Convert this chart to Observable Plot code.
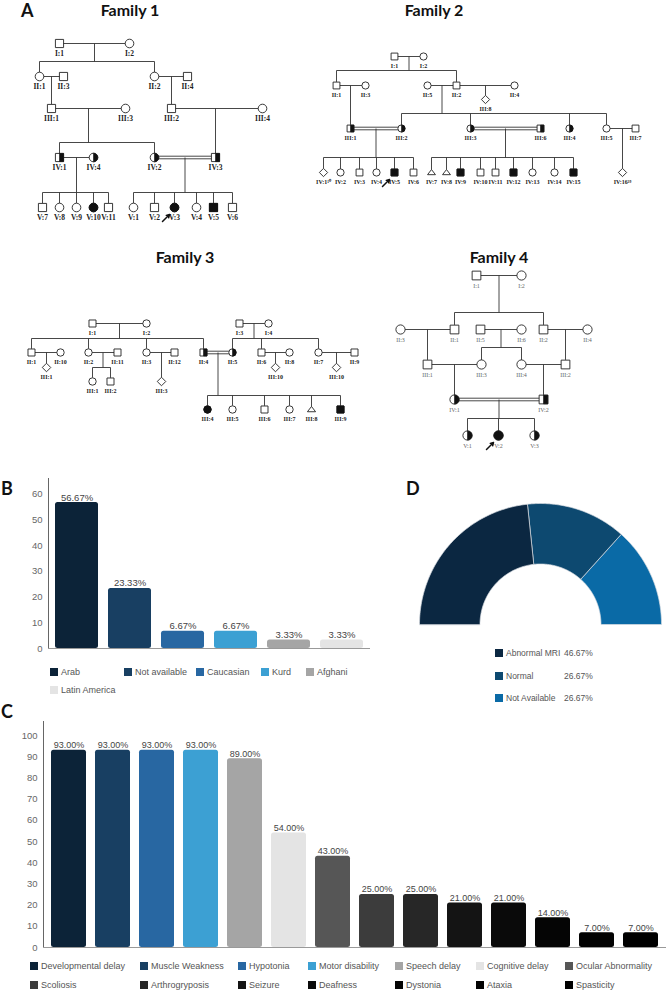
<!DOCTYPE html>
<html><head><meta charset="utf-8">
<script src="https://cdn.jsdelivr.net/npm/d3@7"></script>
<script src="https://cdn.jsdelivr.net/npm/@observablehq/plot@0.6"></script>
<style>
body{margin:0;background:#fff;}
#fig{position:relative;width:666px;height:992px;overflow:hidden;background:#fff;font-family:"Liberation Sans",Arial,sans-serif;}
.letter{position:absolute;font-family:Lato,sans-serif;font-weight:700;font-size:18px;line-height:17px;color:#111;}
.title{position:absolute;font-family:Lato,sans-serif;font-weight:700;font-size:16px;line-height:15px;color:#111;transform:translateX(-50%);white-space:nowrap;}
.leg{position:absolute;font-size:9px;color:#555;white-space:nowrap;line-height:10px;display:flex;align-items:center;}
.sw{display:inline-block;width:8px;height:8px;margin-right:3px;}
</style></head><body>
<div id="fig"></div>
<script>
// ---------------- DATA ----------------
// Panel B: ethnicity
const ethnicity = ["Arab","Not available","Caucasian","Kurd","Afghani","Latin America"];
const ethnicityPct = [56.67,23.33,6.67,6.67,3.33,3.33];
// Panel C: clinical features
const symptoms = ["Developmental delay","Muscle Weakness","Hypotonia","Motor disability","Speech delay","Cognitive delay","Ocular Abnormality","Scoliosis","Arthrogryposis","Seizure","Deafness","Dystonia","Ataxia","Spasticity"];
const symptomPct = [93,93,93,93,89,54,43,25,25,21,21,14,7,7];
// Panel D: MRI
const mriCats = ["Abnormal MRI","Normal","Not Available"];
const mriPct = [46.67,26.67,26.67];
const bTicks = [0,10,20,30,40,50,60];
const cTicks = [0,10,20,30,40,50,60,70,80,90,100];

// Pedigrees: [key, label, layoutX, layoutY, sex(M/F/U/P), status(N/A/C), proband]
const family1People = [
 ["I:1","I:1",59,43,"M","N"],["I:2","I:2",129,43,"F","N"],
 ["II:1","II:1",39,76,"F","N"],["II:3","II:3",63,76,"M","N"],["II:2","II:2",154,76,"F","N"],["II:4","II:4",187,76,"M","N"],
 ["III:1","III:1",51,108,"M","N"],["III:3","III:3",125,108,"F","N"],["III:2","III:2",171,108,"M","N"],["III:4","III:4",262,108,"F","N"],
 ["IV:1","IV:1",59,157,"M","C"],["IV:4","IV:4",93,157,"F","C"],["IV:2","IV:2",154,157,"F","C"],["IV:3","IV:3",215,157,"M","C"],
 ["V:7","V:7",42,207,"M","N"],["V:8","V:8",59,207,"F","N"],["V:9","V:9",76,207,"F","N"],["V:10","V:10",93,207,"F","A"],["V:11","V:11",108,207,"M","N"],
 ["V:1","V:1",133,207,"F","N"],["V:2","V:2",154,207,"M","N"],["V:3","V:3",174,207,"F","A",1],["V:4","V:4",196,207,"F","N"],["V:5","V:5",213,207,"M","A"],["V:6","V:6",232,207,"M","N"]
];
const family1Unions = [
 ["I:1","I:2",0,["II:1","II:2"]],["II:1","II:3",0,["III:1"]],["II:2","II:4",0,["III:2"]],
 ["III:1","III:3",0,["IV:1","IV:2"]],["III:2","III:4",0,["IV:3"]],
 ["IV:1","IV:4",0,["V:7","V:8","V:9","V:10","V:11"]],["IV:2","IV:3",1,["V:1","V:2","V:3","V:4","V:5","V:6"]]
];
const family2People = [
 ["I:1","I:1",394,56,"M","N"],["I:2","I:2",423,56,"F","N"],
 ["II:1","II:1",336,85,"M","N"],["II:3","II:3",365,85,"F","N"],["II:5","II:5",427,85,"F","N"],["II:2","II:2",456,85,"M","N"],["II:4","II:4",514,85,"F","N"],
 ["III:8","III:8",485,99,"U","N"],
 ["III:1","III:1",350,128,"M","C"],["III:2","III:2",401,128,"F","C"],["III:3","III:3",470,128,"F","C"],["III:6","III:6",540,128,"M","C"],["III:4","III:4",569,128,"F","C"],["III:5","III:5",606,128,"F","N"],["III:7","III:7",635,128,"M","N"],
 ["IV:1","IV:1¹⁰",323,172,"U","N"],["IV:2","IV:2",340,172,"F","N"],["IV:3","IV:3",359,172,"M","N"],["IV:4","IV:4",376,172,"F","N"],["IV:5","IV:5",394,172,"M","A",1],["IV:6","IV:6",413,172,"M","N"],
 ["IV:7","IV:7",431,172,"P","N"],["IV:8","IV:8",446,172,"P","N"],["IV:9","IV:9",460,172,"M","A"],["IV:10","IV:10",480,172,"M","N"],["IV:11","IV:11",495,172,"M","N"],["IV:12","IV:12",513,172,"M","A"],["IV:13","IV:13",532,172,"F","N"],["IV:14","IV:14",554,172,"F","N"],["IV:15","IV:15",573,172,"M","A"],
 ["IV:16","IV:16¹⁹",622,172,"U","N"]
];
const family2Unions = [
 ["I:1","I:2",0,["II:1","II:2"]],["II:1","II:3",0,["III:1"]],["II:5","II:2",0,["III:2","III:3","III:4","III:5"]],["II:2","II:4",0,["III:8"]],
 ["III:1","III:2",1,["IV:1","IV:2","IV:3","IV:4","IV:5","IV:6"]],
 ["III:3","III:6",1,["IV:7","IV:8","IV:9","IV:10","IV:11","IV:12","IV:13","IV:14","IV:15"]],
 ["III:5","III:7",0,["IV:16"]]
];
const family3People = [
 ["I:1","I:1",92,323,"M","N"],["I:2","I:2",146,323,"F","N"],["I:3","I:3",239,323,"M","N"],["I:4","I:4",268,323,"F","N"],
 ["II:1","II:1",31,352,"M","N"],["II:10","II:10",60,352,"F","N"],["II:2","II:2",88,352,"F","N"],["II:11","II:11",117,352,"M","N"],["II:3","II:3",146,352,"F","N"],["II:12","II:12",174,352,"M","N"],
 ["II:4","II:4",203,352,"M","C"],["II:5","II:5",232,352,"F","C"],["II:6","II:6",261,352,"M","N"],["II:8","II:8",289,352,"F","N"],["II:7","II:7",318,352,"F","N"],["II:9","II:9",354,352,"M","N"],
 ["III:1a","III:1",46,367,"U","N"],["III:1b","III:1",92,381,"F","N"],["III:2","III:2",110,381,"M","N"],["III:3","III:3",161,381,"U","N"],["III:10a","III:10",275,367,"U","N"],["III:10b","III:10",336,367,"U","N"],
 ["III:4","III:4",207,409,"F","A"],["III:5","III:5",232,409,"F","N"],["III:6","III:6",264,409,"M","N"],["III:7","III:7",289,409,"F","N"],["III:8","III:8",311,409,"P","N"],["III:9","III:9",340,409,"M","A"]
];
const family3Unions = [
 ["I:1","I:2",0,["II:1","II:2","II:3","II:4"]],["I:3","I:4",0,["II:5","II:6","II:7"]],
 ["II:1","II:10",0,["III:1a"]],["II:2","II:11",0,["III:1b","III:2"]],["II:3","II:12",0,["III:3"]],
 ["II:4","II:5",1,["III:4","III:5","III:6","III:7","III:8","III:9"]],
 ["II:6","II:8",0,["III:10a"]],["II:7","II:9",0,["III:10b"]]
];
const family4People = [
 ["I:1","I:1",476,275,"M","N"],["I:2","I:2",521,275,"F","N"],
 ["II:3","II:3",400,329,"F","N"],["II:1","II:1",454,329,"M","N"],["II:5","II:5",480,329,"M","N"],["II:6","II:6",521,329,"F","N"],["II:2","II:2",543,329,"M","N"],["II:4","II:4",587,329,"F","N"],
 ["III:1","III:1",427,364,"M","N"],["III:3","III:3",481,364,"F","N"],["III:4","III:4",521,364,"F","N"],["III:2","III:2",565,364,"M","N"],
 ["IV:1","IV:1",454,399,"F","C"],["IV:2","IV:2",543,399,"M","C"],
 ["V:1","V:1",467,435,"F","C"],["V:2","V:2",498,435,"F","A",1],["V:3","V:3",534,435,"F","C"]
];
const family4Unions = [
 ["I:1","I:2",0,["II:1","II:2"]],["II:3","II:1",0,["III:1"]],["II:5","II:6",0,["III:3","III:4"]],["II:2","II:4",0,["III:2"]],
 ["III:1","III:3",0,["IV:1"]],["III:4","III:2",0,["IV:2"]],["IV:1","IV:2",1,["V:1","V:2","V:3"]]
];

// ---------------- STYLES ----------------
const ethColors = ["#0c2338","#183f62","#2867a2","#3ca0d3","#a5a5a5","#e4e4e4"];
const symColors = ["#0c2338","#183f62","#2867a2","#3ca0d3","#a5a5a5","#e4e4e4","#565656","#3c3c3c","#272727","#141414","#0a0a0a","#050505","#020202","#000000"];
const mriColors = ["#0b2741","#0d4970","#0a6aa6"];

const fig = document.getElementById("fig");
function addDiv(cls, text, left, top, extra) {
  const d = document.createElement("div");
  d.className = cls; d.textContent = text;
  d.style.left = left + "px"; d.style.top = top + "px";
  if (extra) Object.assign(d.style, extra);
  fig.appendChild(d); return d;
}

// ---------------- PANEL A: pedigrees ----------------
const SYM = {
  M: {draw(c, s){ const r = Math.sqrt(s/Math.PI)*0.95; c.rect(-r,-r,2*r,2*r); }},
  F: {draw(c, s){ const r = Math.sqrt(s/Math.PI); c.moveTo(r,0); c.arc(0,0,r,0,2*Math.PI); }},
  U: {draw(c, s){ const r = Math.sqrt(s/Math.PI)*1.15; c.moveTo(0,-r); c.lineTo(r,0); c.lineTo(0,r); c.lineTo(-r,0); c.closePath(); }},
  P: {draw(c, s){ const r = Math.sqrt(s/Math.PI)*1.1; c.moveTo(0,-r*0.75); c.lineTo(r,r*0.55); c.lineTo(-r,r*0.55); c.closePath(); }}
};
const HALF = {
  M: {draw(c, s){ const r = Math.sqrt(s/Math.PI)*0.95; c.rect(0,-r,r,2*r); }},
  F: {draw(c, s){ const r = Math.sqrt(s/Math.PI); c.moveTo(0,-r); c.arc(0,0,r,-Math.PI/2,Math.PI/2); c.closePath(); }}
};
const families = [
  {people: family1People, unions: family1Unions, r: 4.3, drop: 15, labelDy: 10, fs: 7.5, weight: "bold", lab: "#222"},
  {people: family2People, unions: family2Unions, r: 3.6, drop: 15, labelDy: 10, fs: 6, weight: "bold", lab: "#222"},
  {people: family3People, unions: family3Unions, r: 3.7, drop: 14, labelDy: 9.5, fs: 6, weight: "bold", lab: "#222"},
  {people: family4People, unions: family4Unions, r: 4.6, drop: 17, labelDy: 11, fs: 6, weight: "normal", lab: "#666"}
];
const pedMarks = [];
families.forEach((F, fi) => {
  const persons = F.people.map(p => ({fam: fi, key: p[0], label: p[1], x: p[2], y: p[3], sex: p[4], status: p[5], proband: p[6] === 1}));
  const byKey = new Map(persons.map(p => [p.key, p]));
  const segs = [];
  const top = p => p.y - F.r * (p.sex === "U" ? 1.15 : p.sex === "P" ? 0.8 : 1);
  for (const [a, b, cons, kids] of F.unions) {
    const A = byKey.get(a), B = byKey.get(b);
    if (cons) {
      segs.push({x1: A.x, y1: A.y - 1.3, x2: B.x, y2: B.y - 1.3});
      segs.push({x1: A.x, y1: A.y + 1.3, x2: B.x, y2: B.y + 1.3});
    } else segs.push({x1: A.x, y1: A.y, x2: B.x, y2: B.y});
    const mx = (A.x + B.x) / 2;
    const K = kids.map(k => byKey.get(k));
    if (K.length === 1 && Math.abs(K[0].x - mx) < 3) {
      segs.push({x1: K[0].x, y1: A.y, x2: K[0].x, y2: top(K[0])});
      continue;
    }
    const sibY = Math.min(...K.map(k => k.y)) - F.drop;
    segs.push({x1: mx, y1: A.y, x2: mx, y2: sibY});
    const xs = K.map(k => k.x).concat([mx]);
    segs.push({x1: d3.min(xs), y1: sibY, x2: d3.max(xs), y2: sibY});
    for (const k of K) segs.push({x1: k.x, y1: sibY, x2: k.x, y2: top(k)});
  }
  pedMarks.push(Plot.link(segs, {x1: "x1", y1: "y1", x2: "x2", y2: "y2", stroke: "#333", strokeWidth: 0.9}));
  for (const s of ["M","F","U","P"]) {
    const grp = persons.filter(p => p.sex === s);
    pedMarks.push(Plot.dot(grp, {x: "x", y: "y", r: F.r, symbol: SYM[s], fill: "white", stroke: "#222", strokeWidth: 0.9}));
    pedMarks.push(Plot.dot(grp.filter(p => p.status === "A"), {x: "x", y: "y", r: F.r, symbol: SYM[s], fill: "#111", stroke: "#111", strokeWidth: 0.9}));
    if (HALF[s]) pedMarks.push(Plot.dot(grp.filter(p => p.status === "C"), {x: "x", y: "y", r: F.r, symbol: HALF[s], fill: "#111", stroke: "#111", strokeWidth: 0.6}));
  }
  pedMarks.push(Plot.text(persons, {x: "x", y: "y", text: "label", dy: F.labelDy, fontSize: F.fs, fontWeight: F.weight, fill: F.lab, fontFamily: "Liberation Serif, Times New Roman, serif"}));
  pedMarks.push(Plot.arrow(persons.filter(p => p.proband), {x1: d => d.x - 12, y1: d => d.y + 14, x2: d => d.x - 5, y2: d => d.y + 7, stroke: "#111", strokeWidth: 1.5, headLength: 4}));
});
const pedPlot = Plot.plot({
  width: 666, height: 478, margin: 0,
  x: {domain: [0, 666], range: [0, 666], axis: null},
  y: {domain: [0, 478], range: [0, 478], axis: null},
  style: {background: "transparent", overflow: "visible"},
  marks: pedMarks
});
pedPlot.style.position = "absolute"; pedPlot.style.left = "0px"; pedPlot.style.top = "0px";
fig.appendChild(pedPlot);

addDiv("letter", "A", 21, 2);
addDiv("title", "Family 1", 130, 2);
addDiv("title", "Family 2", 434, 2);
addDiv("title", "Family 3", 185, 249);
addDiv("title", "Family 4", 499, 249);

// ---------------- BAR CHARTS (B, C) ----------------
function barChart({cats, vals, colors, width, height, marginLeft, marginTop, yMax, ticks, paddingInner, paddingOuter, fs, labFs}) {
  const data = cats.map((c, i) => ({c, v: vals[i]}));
  return Plot.plot({
    width, height, marginLeft, marginRight: 0, marginTop, marginBottom: 5,
    style: {fontFamily: "Liberation Sans, Arial, sans-serif", fontSize: fs + "px", color: "#666", background: "transparent", overflow: "visible"},
    x: {domain: cats, axis: null, paddingInner, paddingOuter},
    y: {domain: [0, yMax], ticks, tickSize: 0, tickPadding: 6, label: null, line: true},
    color: {domain: cats, range: colors},
    marks: [
      Plot.barY(data, {x: "c", y: "v", fill: "c", rx: 2.5}),
      Plot.ruleY([0], {stroke: "#999", strokeWidth: 1}),
      Plot.text(data, {x: "c", y: "v", text: d => d.v.toFixed(2) + "%", dy: -5, fill: "#444", fontSize: labFs})
    ]
  });
}
function legend(cats, colors, colX, rowY, ncol) {
  cats.forEach((c, i) => {
    const d = addDiv("leg", "", colX[i % ncol], rowY[Math.floor(i / ncol)] - 5);
    const sw = document.createElement("span"); sw.className = "sw"; sw.style.background = colors[i];
    d.appendChild(sw); d.appendChild(document.createTextNode(c));
  });
}

const bPlot = barChart({cats: ethnicity, vals: ethnicityPct, colors: ethColors, width: 370, height: 175, marginLeft: 48, marginTop: 0, yMax: 66, ticks: bTicks, paddingInner: 0.19, paddingOuter: 0.11, fs: 9.5, labFs: 9.5});
bPlot.style.position = "absolute"; bPlot.style.left = "0px"; bPlot.style.top = "478px";
fig.appendChild(bPlot);
addDiv("letter", "B", 1, 480);
legend(ethnicity, ethColors, [50,124,196,261,306], [672,690], 5);

const cPlot = barChart({cats: symptoms, vals: symptomPct, colors: symColors, width: 666, height: 233, marginLeft: 43, marginTop: 2, yMax: 106.6, ticks: cTicks, paddingInner: 0.21, paddingOuter: 0.1, fs: 9.5, labFs: 9});
cPlot.style.position = "absolute"; cPlot.style.left = "0px"; cPlot.style.top = "719px";
fig.appendChild(cPlot);
addDiv("letter", "C", 1, 703);
legend(symptoms, symColors, [30,140,238,308,395,476,565], [966,985], 7);

// ---------------- PANEL D: semi-donut ----------------
const inner = 0.5;
const total = d3.sum(mriPct);
let acc = 0;
const dMarks = [];
mriCats.forEach((c, i) => {
  const f0 = acc / total, f1 = (acc + mriPct[i]) / total; acc += mriPct[i];
  const pts = [], n = 80;
  for (let k = 0; k <= n; k++) { const t = Math.PI * (1 - (f0 + (f1 - f0) * k / n)); pts.push({x: Math.cos(t), y: Math.sin(t)}); }
  for (let k = n; k >= 0; k--) { const t = Math.PI * (1 - (f0 + (f1 - f0) * k / n)); pts.push({x: inner * Math.cos(t), y: inner * Math.sin(t)}); }
  dMarks.push(Plot.line(pts, {x: "x", y: "y", fill: mriColors[i], stroke: "#d8dde2", strokeWidth: 0.7, curve: "linear-closed"}));
});
const dPlot = Plot.plot({
  width: 326, height: 150, margin: 0,
  x: {domain: [-1, 1], range: [79, 321], axis: null},
  y: {domain: [0, 1], range: [144, 23], axis: null},
  style: {background: "transparent", overflow: "visible"},
  marks: dMarks
});
dPlot.style.position = "absolute"; dPlot.style.left = "340px"; dPlot.style.top = "480px";
fig.appendChild(dPlot);
addDiv("letter", "D", 406, 480);
mriCats.forEach((c, i) => {
  const y = [653, 675.5, 698][i];
  const d = addDiv("leg", "", 495, y - 5, {fontSize: "8.5px"});
  const sw = document.createElement("span"); sw.className = "sw"; sw.style.background = mriColors[i];
  d.appendChild(sw); d.appendChild(document.createTextNode(c));
  addDiv("leg", mriPct[i].toFixed(2) + "%", 564, y - 5, {fontSize: "8.5px"});
});
</script></body></html>
